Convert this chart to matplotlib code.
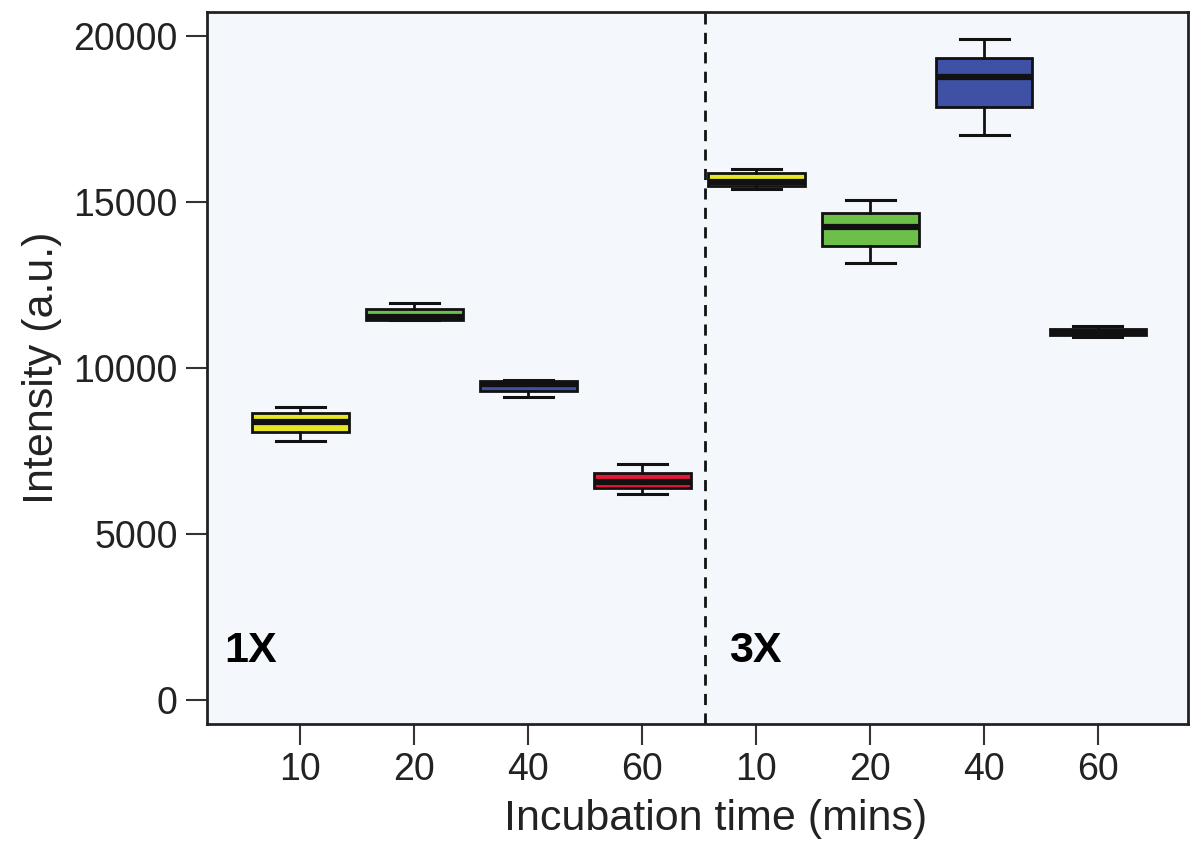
import numpy as np
import matplotlib.pyplot as plt

plt.rcParams['font.family'] = ['Liberation Sans', 'DejaVu Sans']

# data
groups = ['1X', '3X']
times = ['10', '20', '40', '60']
whislo = [7810, 11440, 9117, 6214, 15405, 13153, 17008, 10930]
q1 = [8072, 11450, 9307, 6375, 15485, 13684, 17861, 11010]
med = [8383, 11530, 9520, 6575, 15590, 14238, 18765, 11090]
q3 = [8635, 11780, 9617, 6847, 15860, 14659, 19328, 11170]
whishi = [8835, 11967, 9640, 7117, 15990, 15051, 19900, 11260]
colors = ['#e6e626', '#6cc04a', '#3f51a5', '#e8173a',
          '#e6e626', '#6cc04a', '#3f51a5', '#111111']

stats = []
for i in range(len(med)):
    stats.append(dict(whislo=whislo[i], q1=q1[i], med=med[i], q3=q3[i],
                      whishi=whishi[i], fliers=[]))

fig = plt.figure(figsize=(11.99, 8.48), dpi=100)
ax = fig.add_axes([0.1726, 0.1462, 0.8182, 0.8396])
ax.set_facecolor('#f4f8fc')

pos = np.arange(1, len(med) + 1)
bp = ax.bxp(stats, positions=pos, widths=0.85, patch_artist=True,
            showfliers=False,
            boxprops=dict(edgecolor='#111111', linewidth=2),
            medianprops=dict(color='#111111', linewidth=4.5),
            whiskerprops=dict(color='#111111', linewidth=2),
            capprops=dict(color='#111111', linewidth=2.2),
            capwidths=0.43)
for patch, c in zip(bp['boxes'], colors):
    patch.set_facecolor(c)

ax.axvline(4.55, color='#111111', linestyle=(0, (4, 3)), linewidth=2)

ax.text(0.33, 1480, groups[0], fontsize=31, fontweight='bold', va='center')
ax.text(4.76, 1480, groups[1], fontsize=31, fontweight='bold', va='center')

ax.set_xlim(0.18, 8.79)
ax.set_ylim(-723, 20723)
ax.set_xticks(pos)
ax.set_xticklabels(times * 2)
ax.set_yticks([0, 5000, 10000, 15000, 20000])
ax.tick_params(axis='both', labelsize=27, length=15, width=1.5,
               color='#333333', labelcolor='#222222')
ax.tick_params(axis='x', pad=5)
ax.tick_params(axis='y', pad=6)
for s in ax.spines.values():
    s.set_linewidth(2)
    s.set_color('#222222')

ax.set_xlabel('Incubation time (mins)', fontsize=31, labelpad=8, color='#222222')
ax.xaxis.label.set_x(0.518)
ax.set_ylabel('Intensity (a.u.)', fontsize=31, labelpad=8, color='#222222')

fig.savefig('out.png', dpi=100)
